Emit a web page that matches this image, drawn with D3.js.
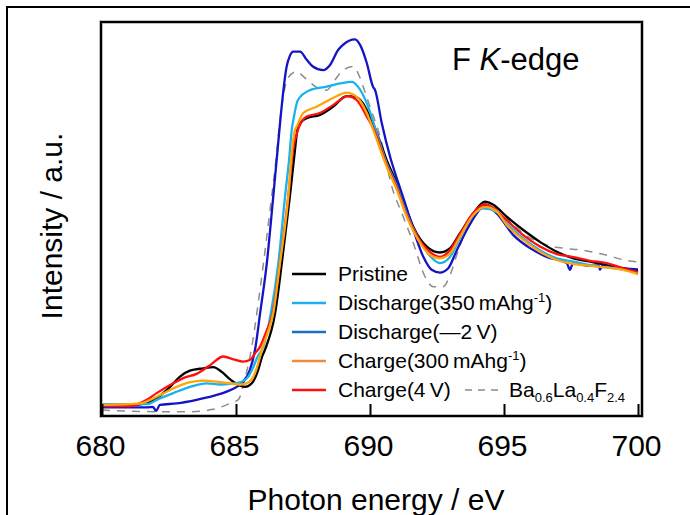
<!DOCTYPE html>
<html>
<head>
<meta charset="utf-8">
<script src="https://cdn.jsdelivr.net/npm/d3@7"></script>
<style>
  body { margin: 0; background: #fff; }
  text { font-family: "Liberation Sans", Arial, sans-serif; fill: #000; }
</style>
</head>
<body>
<script>
// F K-edge spectra, [photon energy (eV), intensity (a.u.)]
const pristine = [[680.0,0.028],[681.04,0.028],[681.67,0.032],[682.04,0.045],[682.54,0.074],[682.91,0.100],[683.28,0.115],[683.78,0.121],[684.15,0.124],[684.47,0.112],[684.78,0.093],[685.09,0.079],[685.34,0.074],[685.59,0.083],[685.83,0.117],[685.97,0.150],[686.08,0.168],[686.46,0.261],[686.71,0.388],[687.01,0.557],[687.20,0.675],[687.29,0.726],[687.41,0.744],[687.64,0.756],[688.13,0.764],[688.62,0.785],[689.13,0.812],[689.50,0.809],[690.00,0.760],[690.44,0.684],[690.62,0.650],[691.00,0.591],[691.24,0.548],[691.62,0.480],[692.12,0.430],[692.61,0.415],[692.99,0.426],[693.36,0.464],[693.85,0.514],[694.29,0.544],[694.60,0.536],[695.10,0.506],[695.72,0.472],[696.34,0.442],[696.97,0.417],[697.59,0.400],[698.21,0.392],[698.83,0.383],[699.45,0.375],[700.0,0.368]];
const discharge350 = [[680.0,0.030],[681.67,0.030],[682.04,0.041],[682.66,0.058],[683.28,0.074],[683.91,0.083],[684.40,0.080],[684.90,0.083],[685.21,0.087],[685.46,0.100],[685.65,0.125],[685.80,0.150],[686.02,0.176],[686.30,0.261],[686.58,0.388],[686.83,0.557],[686.98,0.650],[687.08,0.726],[687.14,0.751],[687.31,0.802],[687.76,0.827],[688.38,0.836],[688.88,0.844],[689.32,0.848],[689.55,0.836],[689.88,0.794],[690.25,0.718],[690.62,0.642],[691.00,0.584],[691.37,0.513],[691.80,0.452],[692.24,0.406],[692.61,0.388],[692.99,0.404],[693.36,0.452],[693.85,0.510],[694.23,0.527],[694.73,0.518],[695.10,0.489],[695.72,0.451],[696.34,0.421],[696.97,0.400],[697.59,0.392],[698.21,0.383],[698.83,0.377],[699.45,0.372],[700.0,0.364]];
const dischargeMinus2V = [[680.0,0.022],[681.67,0.022],[681.90,0.023],[682.02,0.013],[682.16,0.028],[682.79,0.032],[683.53,0.041],[684.15,0.051],[684.65,0.062],[685.03,0.074],[685.27,0.087],[685.52,0.117],[685.71,0.168],[685.90,0.261],[686.15,0.388],[686.39,0.557],[686.62,0.726],[686.68,0.769],[686.89,0.887],[687.01,0.914],[687.13,0.925],[687.39,0.925],[687.64,0.904],[687.87,0.887],[688.25,0.878],[688.51,0.891],[688.81,0.929],[688.99,0.942],[689.44,0.956],[689.63,0.942],[689.88,0.896],[690.11,0.836],[690.19,0.827],[690.44,0.743],[690.75,0.658],[691.06,0.591],[691.31,0.540],[691.62,0.472],[691.99,0.404],[692.30,0.371],[692.61,0.364],[692.92,0.375],[693.24,0.421],[693.61,0.472],[693.98,0.514],[694.29,0.536],[694.73,0.514],[695.35,0.459],[695.97,0.426],[696.59,0.404],[697.34,0.388],[697.46,0.371],[697.57,0.387],[698.21,0.381],[698.54,0.382],[698.58,0.371],[698.66,0.381],[699.08,0.377],[700.0,0.372]];
const charge300 = [[680.0,0.028],[681.42,0.032],[682.04,0.049],[682.66,0.070],[683.28,0.086],[683.78,0.090],[684.28,0.087],[684.78,0.083],[685.15,0.080],[685.40,0.083],[685.65,0.100],[685.83,0.134],[685.96,0.168],[686.15,0.205],[686.39,0.261],[686.64,0.388],[686.95,0.557],[687.09,0.675],[687.20,0.726],[687.26,0.734],[687.51,0.769],[688.01,0.785],[688.62,0.807],[689.13,0.821],[689.50,0.810],[689.88,0.769],[690.12,0.726],[690.62,0.633],[691.00,0.574],[691.37,0.506],[691.80,0.447],[692.24,0.409],[692.61,0.400],[692.99,0.413],[693.36,0.455],[693.85,0.510],[694.29,0.531],[694.73,0.519],[695.10,0.485],[695.72,0.447],[696.34,0.417],[696.97,0.396],[697.59,0.386],[698.21,0.381],[698.83,0.377],[699.45,0.371],[700.0,0.360]];
const charge4V = [[680.0,0.025],[681.04,0.025],[681.67,0.041],[682.04,0.058],[682.66,0.083],[683.03,0.096],[683.53,0.107],[684.03,0.129],[684.53,0.151],[684.90,0.144],[685.27,0.138],[685.52,0.142],[685.71,0.159],[685.90,0.176],[686.12,0.213],[686.37,0.261],[686.64,0.388],[686.95,0.557],[687.13,0.675],[687.31,0.726],[687.64,0.760],[688.13,0.769],[688.62,0.789],[689.18,0.812],[689.50,0.802],[689.88,0.760],[690.12,0.731],[690.62,0.637],[691.00,0.579],[691.37,0.510],[691.80,0.452],[692.24,0.416],[692.61,0.404],[692.99,0.421],[693.36,0.462],[693.85,0.515],[694.29,0.538],[694.60,0.528],[695.10,0.497],[695.72,0.459],[696.34,0.430],[696.97,0.411],[697.59,0.403],[698.21,0.394],[698.83,0.388],[699.45,0.375],[700.0,0.365]];
const refBaLaF = [[680.0,0.015],[682.04,0.011],[683.28,0.011],[684.15,0.017],[684.78,0.032],[685.09,0.042],[685.37,0.104],[685.60,0.180],[685.82,0.282],[686.04,0.396],[686.27,0.523],[686.49,0.650],[686.64,0.751],[686.76,0.810],[686.94,0.858],[687.26,0.874],[687.57,0.858],[688.06,0.832],[688.38,0.827],[688.69,0.853],[688.94,0.874],[689.37,0.887],[689.63,0.858],[689.81,0.823],[690.00,0.785],[690.41,0.701],[690.82,0.581],[691.24,0.506],[691.62,0.438],[692.05,0.354],[692.36,0.328],[692.72,0.328],[692.99,0.358],[693.24,0.409],[693.61,0.477],[693.98,0.523],[694.29,0.541],[694.73,0.528],[695.35,0.485],[695.97,0.452],[696.59,0.434],[697.20,0.426],[697.90,0.421],[698.77,0.409],[699.63,0.394],[700.0,0.391]];

const xTicks = [680, 685, 690, 695, 700];

const BLACK = '#000';
const SKY = '#1AB2EE';
const BLUE = '#1414C4';
const ORANGE = '#FFA50A';
const RED = '#FF1010';
const GREY = '#8C8C8C';

const W = 690, H = 515;
const box = { left: 101, top: 22, right: 642, bottom: 416 };

const svg = d3.select('body').append('svg')
  .attr('width', W)
  .attr('height', H);

const x = d3.scaleLinear().domain([680, 700]).range([102, 638]);
const y = d3.scaleLinear().domain([0, 1]).range([box.bottom, box.top]);

// outer frame (runs off right/bottom edge)
svg.append('rect')
  .attr('x', 7).attr('y', 7)
  .attr('width', 720).attr('height', 540)
  .attr('fill', 'none')
  .attr('stroke', BLACK)
  .attr('stroke-width', 2);

svg.append('clipPath').attr('id', 'plot-clip')
  .append('rect')
  .attr('x', box.left).attr('y', box.top)
  .attr('width', box.right - box.left).attr('height', box.bottom - box.top);

const line = d3.line()
  .x(d => x(d[0]))
  .y(d => y(d[1]))
  .curve(d3.curveMonotoneX);

const series = [
  { data: refBaLaF, color: GREY, width: 1.5, dash: '8,7' },
  { data: pristine, color: BLACK, width: 2.3 },
  { data: dischargeMinus2V, color: BLUE, width: 2.3 },
  { data: discharge350, color: SKY, width: 2.3 },
  { data: charge4V, color: RED, width: 2.3 },
  { data: charge300, color: ORANGE, width: 2.3 }
];

const plot = svg.append('g').attr('clip-path', 'url(#plot-clip)');

series.forEach((s) => {
  plot.append('path')
    .attr('d', line(s.data))
    .attr('fill', 'none')
    .attr('stroke', s.color)
    .attr('stroke-width', s.width)
    .attr('stroke-linejoin', 'round')
    .attr('stroke-dasharray', s.dash || null);
});

// plot frame
svg.append('rect')
  .attr('x', box.left).attr('y', box.top)
  .attr('width', box.right - box.left).attr('height', box.bottom - box.top)
  .attr('fill', 'none')
  .attr('stroke', '#aaa')
  .attr('stroke-width', 3.5);
svg.append('rect')
  .attr('x', box.left).attr('y', box.top)
  .attr('width', box.right - box.left).attr('height', box.bottom - box.top)
  .attr('fill', 'none')
  .attr('stroke', BLACK)
  .attr('stroke-width', 2);

const xAxis = svg.append('g')
  .attr('transform', `translate(0,${box.bottom})`)
  .call(d3.axisBottom(x).tickValues(xTicks).tickSizeInner(-12).tickSizeOuter(0).tickFormat(d3.format('d')));

xAxis.select('.domain').remove();
xAxis.selectAll('line').attr('stroke', BLACK).attr('stroke-width', 2);
xAxis.selectAll('text')
  .attr('x', -2)
  .attr('y', 40)
  .attr('dy', null)
  .attr('font-size', 30)
  .attr('font-family', '"Liberation Sans", Arial, sans-serif')
  .attr('fill', BLACK);

svg.append('text')
  .attr('x', 376).attr('y', 510)
  .attr('text-anchor', 'middle')
  .attr('font-size', 30)
  .text('Photon energy / eV');

svg.append('text')
  .attr('transform', 'translate(62,226) rotate(-90)')
  .attr('text-anchor', 'middle')
  .attr('font-size', 30)
  .text('Intensity / a.u.');

const title = svg.append('text')
  .attr('x', 452).attr('y', 70)
  .attr('font-size', 31);
title.append('tspan').text('F ');
title.append('tspan').attr('font-style', 'italic').text('K');
title.append('tspan').text('-edge');

// legend
const legendLabels = [
  [['Pristine', '']],
  [['Discharge(350\u2009mAhg', ''], ['-1', 'sup'], [')', '']],
  [['Discharge(\u20142\u2009V)', '']],
  [['Charge(300\u2009mAhg', ''], ['-1', 'sup'], [')', '']],
  [['Charge(4\u2009V)', '']]
];
const legendColors = [BLACK, '#20AEEC', '#1F6EC0', '#F08A3C', RED];
const refLabel = [['Ba', ''], ['0.6', 'sub'], ['La', ''], ['0.4', 'sub'], ['F', ''], ['2.4', 'sub']];

const legend = svg.append('g');

legendLabels.forEach((parts, i) => {
  const ly = 274 + i * 29;
  legend.append('line')
    .attr('x1', 292).attr('x2', 326)
    .attr('y1', ly).attr('y2', ly)
    .attr('stroke', legendColors[i])
    .attr('stroke-width', 2.5);
  addRichText(legend, 338, ly + 7, parts, 21);
});

legend.append('line')
  .attr('x1', 465).attr('x2', 500)
  .attr('y1', 390).attr('y2', 390)
  .attr('stroke', GREY)
  .attr('stroke-width', 1.5)
  .attr('stroke-dasharray', '7,6');
addRichText(legend, 509, 397, refLabel, 21);

function addRichText(g, tx, ty, parts, size) {
  const t = g.append('text').attr('x', tx).attr('y', ty).attr('font-size', size);
  let shift = 0;
  parts.forEach(([str, kind]) => {
    const target = kind === 'sup' ? -8 : kind === 'sub' ? 5 : 0;
    t.append('tspan')
      .attr('dy', target - shift)
      .attr('font-size', kind ? 13 : size)
      .text(str);
    shift = target;
  });
}
</script>
</body>
</html>
